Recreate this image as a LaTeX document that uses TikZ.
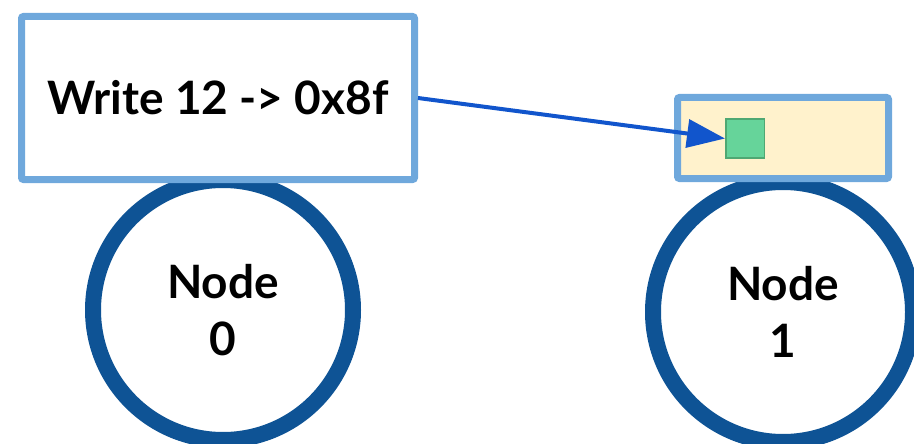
\documentclass[tikz,border=0pt]{standalone}
\usepackage{fontspec}
\setmainfont{Lato}
\usetikzlibrary{arrows.meta}
\definecolor{ringblue}{HTML}{0E5395}
\definecolor{boxblue}{HTML}{6FA8DC}
\definecolor{arrowblue}{HTML}{1155CC}
\definecolor{cream}{HTML}{FFF2CC}
\definecolor{greenfill}{HTML}{66D49A}
\definecolor{greenline}{HTML}{4FA873}
\tikzset{
  machine/.style={circle, draw=ringblue, fill=white, line width=16pt, minimum size=260pt, inner sep=0pt, align=center, font=\bfseries\fontsize{46}{57}\selectfont},
  opbox/.style={draw=boxblue, fill=white, line width=7pt, rounded corners=2pt, inner sep=0pt, font=\bfseries\fontsize{46}{57}\selectfont},
  membox/.style={draw=boxblue, fill=cream, line width=7pt, rounded corners=2pt, inner sep=0pt},
  cell/.style={draw=greenline, fill=greenfill, line width=1.5pt, inner sep=0pt, minimum size=38.5pt},
  wire/.style={draw=arrowblue, line width=4pt, -{Triangle[length=38pt,width=28pt]}}
}
\begin{document}
\begin{tikzpicture}[x=1pt,y=-1pt]
\useasboundingbox (0,0) rectangle (914,444);
\node[machine] (n0) at (223,310) {Node\\0};
\node[machine] (n1) at (783,312) {Node\\1};
\node[opbox, minimum width=393pt, minimum height=163pt] (w) at (218,98) {Write 12 -> 0x8f};
\node[membox, minimum width=211pt, minimum height=81pt] (m) at (783,138) {};
\node[cell] (c) at (745,138.5) {};
\draw[wire] (w.east) -- (c.west);
\end{tikzpicture}
\end{document}
